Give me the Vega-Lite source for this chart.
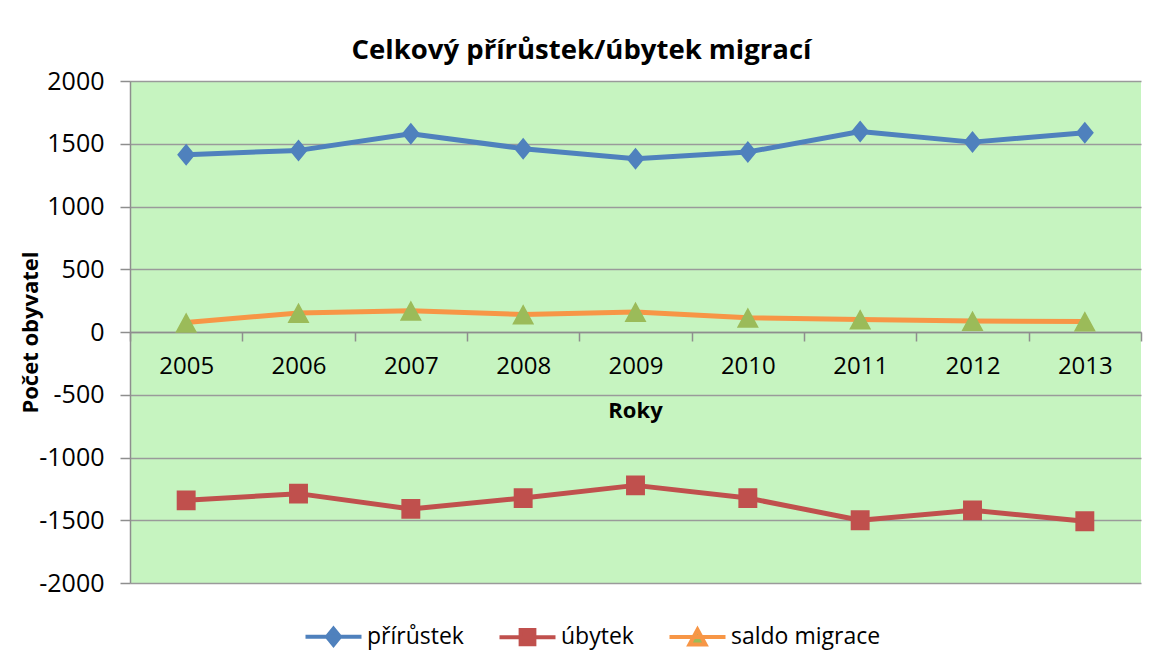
{
  "$schema": "https://vega.github.io/schema/vega-lite/v6.json",
  "width": 1011,
  "height": 502,
  "autosize": {"type": "none"},
  "padding": {"left": 130, "top": 81, "right": 25, "bottom": 81},
  "background": "white",
  "title": {
    "text": "Celkový přírůstek/úbytek migrací",
    "font": "Open Sans",
    "fontSize": 27.5,
    "fontWeight": "bold",
    "color": "#000000",
    "anchor": "middle",
    "frame": "group",
    "baseline": "alphabetic",
    "dx": -54,
    "offset": -17
  },
  "data": {
    "values": [
      {"rok": "2005", "rada": "přírůstek", "hodnota": 1413},
      {"rok": "2006", "rada": "přírůstek", "hodnota": 1447},
      {"rok": "2007", "rada": "přírůstek", "hodnota": 1580},
      {"rok": "2008", "rada": "přírůstek", "hodnota": 1461},
      {"rok": "2009", "rada": "přírůstek", "hodnota": 1381},
      {"rok": "2010", "rada": "přírůstek", "hodnota": 1434},
      {"rok": "2011", "rada": "přírůstek", "hodnota": 1598},
      {"rok": "2012", "rada": "přírůstek", "hodnota": 1513},
      {"rok": "2013", "rada": "přírůstek", "hodnota": 1588},
      {"rok": "2005", "rada": "úbytek", "hodnota": -1341},
      {"rok": "2006", "rada": "úbytek", "hodnota": -1288},
      {"rok": "2007", "rada": "úbytek", "hodnota": -1410},
      {"rok": "2008", "rada": "úbytek", "hodnota": -1323},
      {"rok": "2009", "rada": "úbytek", "hodnota": -1222},
      {"rok": "2010", "rada": "úbytek", "hodnota": -1323},
      {"rok": "2011", "rada": "úbytek", "hodnota": -1500},
      {"rok": "2012", "rada": "úbytek", "hodnota": -1421},
      {"rok": "2013", "rada": "úbytek", "hodnota": -1508},
      {"rok": "2005", "rada": "saldo migrace", "hodnota": 75},
      {"rok": "2006", "rada": "saldo migrace", "hodnota": 152},
      {"rok": "2007", "rada": "saldo migrace", "hodnota": 170},
      {"rok": "2008", "rada": "saldo migrace", "hodnota": 140},
      {"rok": "2009", "rada": "saldo migrace", "hodnota": 160},
      {"rok": "2010", "rada": "saldo migrace", "hodnota": 114},
      {"rok": "2011", "rada": "saldo migrace", "hodnota": 100},
      {"rok": "2012", "rada": "saldo migrace", "hodnota": 88},
      {"rok": "2013", "rada": "saldo migrace", "hodnota": 84}
    ]
  },
  "encoding": {
    "x": {
      "field": "rok",
      "type": "ordinal",
      "scale": {"type": "band", "paddingInner": 0, "paddingOuter": 0},
      "axis": {
        "title": "Roky",
        "offset": -251,
        "labelAngle": 0,
        "labelFont": "Open Sans",
        "labelFontSize": 24,
        "labelColor": "#000000",
        "labelPadding": 13,
        "tickBand": "extent",
        "tickSize": 9,
        "tickColor": "#8E8E8E",
        "tickWidth": 1.5,
        "domainColor": "#8E8E8E",
        "domainWidth": 1.5,
        "grid": false,
        "titleFont": "Open Sans",
        "titleFontSize": 22,
        "titleFontWeight": "bold",
        "titleColor": "#000000",
        "titleX": 505,
        "titleY": 78,
        "titleBaseline": "middle",
        "titleAlign": "center"
      }
    },
    "y": {
      "field": "hodnota",
      "type": "quantitative",
      "scale": {"domain": [-2000, 2000], "nice": false, "zero": false},
      "axis": {
        "title": "Počet obyvatel",
        "values": [-2000, -1500, -1000, -500, 0, 500, 1000, 1500, 2000],
        "labelExpr": "'' + datum.value",
        "labelFont": "Open Sans",
        "labelFontSize": 25,
        "labelColor": "#000000",
        "labelPadding": 16,
        "tickSize": 10,
        "tickColor": "#8E8E8E",
        "tickWidth": 1.5,
        "domainColor": "#8E8E8E",
        "domainWidth": 1.5,
        "gridColor": "#9A9A9A",
        "gridWidth": 1.5,
        "titleFont": "Open Sans",
        "titleFontSize": 22,
        "titleFontWeight": "bold",
        "titleColor": "#000000",
        "titleAngle": -90,
        "titleX": -100,
        "titleY": 251,
        "titleBaseline": "middle",
        "titleAlign": "center"
      }
    }
  },
  "layer": [
    {
      "mark": {"type": "line", "strokeWidth": 5, "strokeJoin": "round"},
      "encoding": {
        "color": {
          "field": "rada",
          "type": "nominal",
          "scale": {
            "domain": ["přírůstek", "úbytek", "saldo migrace"],
            "range": ["#4F81BD", "#C0504D", "#F79646"]
          },
          "legend": {
            "title": null,
            "orient": "none",
            "direction": "horizontal",
            "legendX": 192,
            "legendY": 544,
            "padding": 0,
            "symbolSize": 256,
            "symbolStrokeWidth": 4,
            "labelFont": "Open Sans",
            "labelFontSize": 23,
            "labelColor": "#000000",
            "labelOffset": 22,
            "columnPadding": 27
          }
        }
      }
    },
    {
      "mark": {"type": "point", "filled": true, "opacity": 1, "size": 484},
      "encoding": {
        "fill": {
          "field": "rada",
          "type": "nominal",
          "scale": {
            "domain": ["přírůstek", "úbytek", "saldo migrace"],
            "range": ["#4F81BD", "#C0504D", "#9BBB59"]
          },
          "legend": {
            "title": null,
            "orient": "none",
            "direction": "horizontal",
            "legendX": 192,
            "legendY": 544,
            "padding": 0,
            "symbolSize": 256,
            "symbolStrokeWidth": 4,
            "labelFont": "Open Sans",
            "labelFontSize": 23,
            "labelColor": "#000000",
            "labelOffset": 22,
            "columnPadding": 27
          }
        },
        "shape": {
          "field": "rada",
          "type": "nominal",
          "scale": {
            "domain": ["přírůstek", "úbytek", "saldo migrace"],
            "range": ["M-3.5,0H3.5M0,-1L0.82,0L0,1L-0.82,0Z", "M-3.5,0H3.5M-0.86,-0.9H0.86V0.9H-0.86Z", "M-3.5,0H3.5M0,-0.92L1,0.92L-1,0.92Z"]
          },
          "legend": {
            "title": null,
            "orient": "none",
            "direction": "horizontal",
            "legendX": 192,
            "legendY": 544,
            "padding": 0,
            "symbolSize": 256,
            "symbolStrokeWidth": 4,
            "labelFont": "Open Sans",
            "labelFontSize": 23,
            "labelColor": "#000000",
            "labelOffset": 22,
            "columnPadding": 27
          }
        }
      }
    }
  ],
  "config": {
    "view": {"fill": "#C6F4C0", "stroke": null},
    "axis": {"zindex": 0}
  }
}
